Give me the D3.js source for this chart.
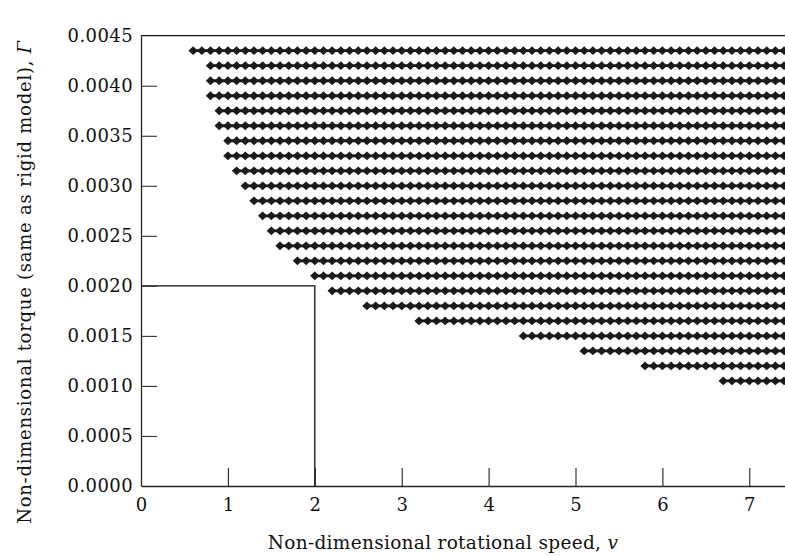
<!DOCTYPE html>
<html>
<head>
<meta charset="utf-8">
<script src="https://cdn.jsdelivr.net/npm/d3@7"></script>
<style>
  html, body { margin: 0; padding: 0; background: #fff; }
  svg { display: block; }
  .tick text { font-family: "DejaVu Serif", serif; fill: #111; }
</style>
</head>
<body>
<svg id="chart" width="785" height="556"></svg>
<script>
// ---- data ----
const torqueRows = [0.00435, 0.0042, 0.00405, 0.0039, 0.00375, 0.0036, 0.00345, 0.0033,
  0.00315, 0.0030, 0.00285, 0.0027, 0.00255, 0.0024, 0.00225, 0.0021, 0.00195, 0.0018,
  0.00165, 0.0015, 0.00135, 0.0012, 0.00105];
const minSpeed = [0.6, 0.8, 0.8, 0.8, 0.9, 0.9, 1.0, 1.0, 1.1, 1.2, 1.3, 1.4, 1.5, 1.6,
  1.8, 2.0, 2.2, 2.6, 3.2, 4.4, 5.1, 5.8, 6.7];
const speedGrid = [0.6, 0.7, 0.8, 0.9, 1.0, 1.1, 1.2, 1.3, 1.4, 1.5, 1.6, 1.7, 1.8, 1.9,
  2.0, 2.1, 2.2, 2.3, 2.4, 2.5, 2.6, 2.7, 2.8, 2.9, 3.0, 3.1, 3.2, 3.3, 3.4, 3.5, 3.6, 3.7,
  3.8, 3.9, 4.0, 4.1, 4.2, 4.3, 4.4, 4.5, 4.6, 4.7, 4.8, 4.9, 5.0, 5.1, 5.2, 5.3, 5.4, 5.5,
  5.6, 5.7, 5.8, 5.9, 6.0, 6.1, 6.2, 6.3, 6.4, 6.5, 6.6, 6.7, 6.8, 6.9, 7.0, 7.1, 7.2, 7.3,
  7.4, 7.5];
const xTicks = [0, 1, 2, 3, 4, 5, 6, 7];
const yTicks = [0, 0.0005, 0.0010, 0.0015, 0.0020, 0.0025, 0.0030, 0.0035, 0.0040, 0.0045];
const rigidBox = { speed: 2, torque: 0.0020 };
const xTitle = "Non-dimensional rotational speed, ";
const yTitle = "Non-dimensional torque (same as rigid model), ";

// ---- layout ----
const svg = d3.select("#chart");
const x0 = 141, yBottom = 486, yTop = 35.7;
const x = d3.scaleLinear().domain([0, 7.5]).range([x0, x0 + 7.5 * 86.9]);
const y = d3.scaleLinear().domain([0, 0.0045]).range([yBottom, yTop]);

// points
const pts = [];
torqueRows.forEach((t, i) => {
  speedGrid.filter(s => s >= minSpeed[i] - 1e-9).forEach(s => pts.push({ s, t }));
});

const g = svg.append("g");
g.selectAll("line.row").data(torqueRows).join("line")
  .attr("class", "row")
  .attr("x1", (t, i) => x(minSpeed[i])).attr("x2", x(7.5))
  .attr("y1", t => y(t)).attr("y2", t => y(t))
  .attr("stroke", "#1a1a1a").attr("stroke-width", 2.8);
const w = 4.7, h = 4.4;
g.selectAll("path.pt").data(pts).join("path")
  .attr("class", "pt")
  .attr("d", `M0,${-h}L${w},0L0,${h}L${-w},0Z`)
  .attr("transform", d => `translate(${x(d.s)},${y(d.t)})`)
  .attr("fill", "#1a1a1a");

// rigid model box
svg.append("path")
  .attr("d", `M${x(0)},${y(rigidBox.torque)}H${x(rigidBox.speed)}V${y(0)}`)
  .attr("fill", "none").attr("stroke", "#111").attr("stroke-width", 1.3);

// top frame line
svg.append("line").attr("x1", x0).attr("x2", x(7.5)).attr("y1", yTop).attr("y2", yTop)
  .attr("stroke", "#111").attr("stroke-width", 1.3);

// axes
const xAxis = d3.axisBottom(x).tickValues(xTicks).tickFormat(d3.format("d"))
  .tickSizeInner(-18).tickSizeOuter(0).tickPadding(12);
const gx = svg.append("g").attr("transform", `translate(0,${yBottom})`).call(xAxis);
gx.select(".domain").attr("stroke", "#222").attr("stroke-width", 1.3);
gx.selectAll(".tick line").attr("stroke", "#222").attr("stroke-width", 1.1)
  .filter(d => d === 0).remove();
gx.selectAll(".tick text").attr("font-size", 18);

const yAxis = d3.axisLeft(y).tickValues(yTicks).tickFormat(d3.format(".4f"))
  .tickSizeInner(-16).tickSizeOuter(0).tickPadding(8);
const gy = svg.append("g").attr("transform", `translate(${x0},0)`).call(yAxis);
gy.select(".domain").attr("stroke", "#222").attr("stroke-width", 1.3);
gy.selectAll(".tick line").attr("stroke", "#333").attr("stroke-width", 1.1)
  .filter(d => d === 0 || d === 0.0045).remove();
gy.selectAll(".tick text").attr("font-size", 18).style("letter-spacing", "0.4px");

// titles
const xt = svg.append("text").attr("x", 443).attr("y", 549).attr("text-anchor", "middle")
  .style("font-family", "'DejaVu Serif', serif")
  .style("letter-spacing", "0.3px")
  .attr("font-size", 18.5).attr("fill", "#111");
xt.append("tspan").text(xTitle);
xt.append("tspan").attr("font-style", "italic").text("v");

const yt = svg.append("text").attr("transform", `translate(31,${282}) rotate(-90)`)
  .attr("text-anchor", "middle")
  .style("font-family", "'DejaVu Serif', serif")
  .style("letter-spacing", "0.75px")
  .attr("font-size", 18).attr("fill", "#111");
yt.append("tspan").text(yTitle);
yt.append("tspan").attr("font-style", "italic").text("Γ");
</script>
</body>
</html>
